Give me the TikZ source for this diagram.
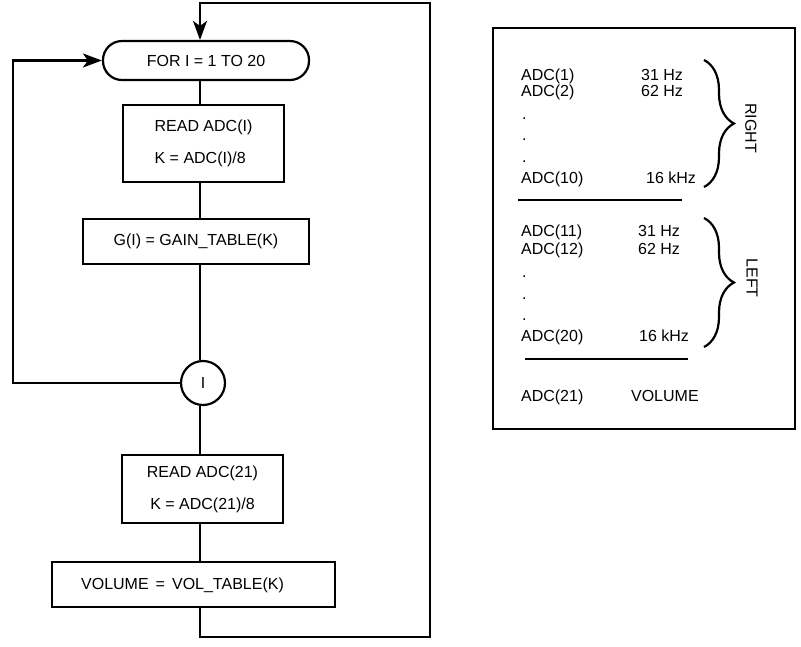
\documentclass[tikz,border=0pt]{standalone}
\usepackage{fontspec}
\setmainfont{Liberation Sans}
\usetikzlibrary{arrows.meta,decorations.pathreplacing}
\begin{document}
\begin{tikzpicture}[x=1pt,y=-1pt,line width=2.2pt,
  box/.style={draw,line width=2.2pt,inner sep=0pt,font=\fontsize{16}{19}\selectfont},
  txt/.style={inner sep=0pt,font=\fontsize{16}{19}\selectfont},
  ptext/.style={anchor=base west,inner sep=0pt,font=\fontsize{16}{19}\selectfont},
  arr/.style={-{Stealth[length=19pt,width=14pt,inset=5pt]}},
  brc/.style={decorate,decoration={brace,amplitude=30pt},line width=2.2pt},
  sep/.style={line width=2.2pt}]
\useasboundingbox (0,0) rectangle (801,646);

% flowchart
\node[box,rounded corners=19pt,minimum width=206pt,minimum height=39pt] (for) at (206,60.5) {FOR I = 1 TO 20};
\node[box,minimum width=161pt,minimum height=77pt,align=left] (read1) at (203.5,143.5) {READ ADC(I)\\[13pt]K = ADC(I)/8};
\node[box,minimum width=226pt,minimum height=45pt] (gain) at (196,241.5) {G(I) = GAIN\_TABLE(K)};
\node[box,circle,minimum size=44pt] (loop) at (203,383) {I};
\node[box,minimum width=161pt,minimum height=68pt,align=center] (read2) at (202.5,489) {READ ADC(21)\\[13pt]K = ADC(21)/8};
\node[box,minimum width=283pt,minimum height=45pt] (vol) at (193.5,584.5) {};
\node[txt] (voltxt) at (182.5,585) {VOLUME\hspace{7pt}=\hspace{7pt}VOL\_TABLE(K)};

\coordinate (col) at (200,0);
\draw (for.south -| col) -- (read1.north -| col);
\draw (read1.south -| col) -- (gain.north -| col);
\draw (gain.south -| col) -- (loop.north -| col);
\draw (loop.south -| col) -- (read2.north -| col);
\draw (read2.south -| col) -- (vol.north -| col);

\coordinate (bl) at (200,637);
\coordinate (br) at (430,637);
\coordinate (tr) at (430,3);
\coordinate (tl) at (200,3);
\draw[arr] (vol.south -| col) -- (bl) -- (br) -- (tr) -- (tl) -- (for.north -| col);

\coordinate (ll) at (13,383);
\coordinate (lt) at (13,60.5);
\draw[arr] (loop.west) -- (ll) -- (lt) -- (for.west);

% right panel
\node[draw,line width=2.2pt,minimum width=302pt,minimum height=401pt,inner sep=0pt] (panel) at (644,228.5) {};

\node[ptext] (a1) at (520,80) {ADC(1)};
\node[ptext] (f1) at (640,80) {31 Hz};
\node[ptext] (a2) at (520,96) {ADC(2)};
\node[ptext] (f2) at (640,96) {62 Hz};
\node[ptext] (d1) at (521,119) {.};
\node[ptext] (d2) at (521,140) {.};
\node[ptext] (d3) at (521,162) {.};
\node[ptext] (a10) at (520,183) {ADC(10)};
\node[ptext] (f10) at (645,183) {16 kHz};
\draw[sep] (518,200) -- (682,200);
\node[ptext] (a11) at (520,236) {ADC(11)};
\node[ptext] (f11) at (637,236) {31 Hz};
\node[ptext] (a12) at (520,254) {ADC(12)};
\node[ptext] (f12) at (637,254) {62 Hz};
\node[ptext] (d4) at (521,277) {.};
\node[ptext] (d5) at (521,299) {.};
\node[ptext] (d6) at (521,320) {.};
\node[ptext] (a20) at (520,341) {ADC(20)};
\node[ptext] (f20) at (638,341) {16 kHz};
\draw[sep] (525,359) -- (688,359);
\node[ptext] (a21) at (520,401) {ADC(21)};
\node[ptext] (v21) at (630,401) {VOLUME};

\coordinate (rb1) at (704,60);
\coordinate (rb2) at (704,187);
\draw[brc] (rb1) -- (rb2);
\coordinate (lb1) at (704,218);
\coordinate (lb2) at (704,347);
\draw[brc] (lb1) -- (lb2);
\node[txt,rotate=-90] (right) at (751,128) {RIGHT};
\node[txt,rotate=-90] (left) at (752,278) {LEFT};
\end{tikzpicture}
\end{document}
